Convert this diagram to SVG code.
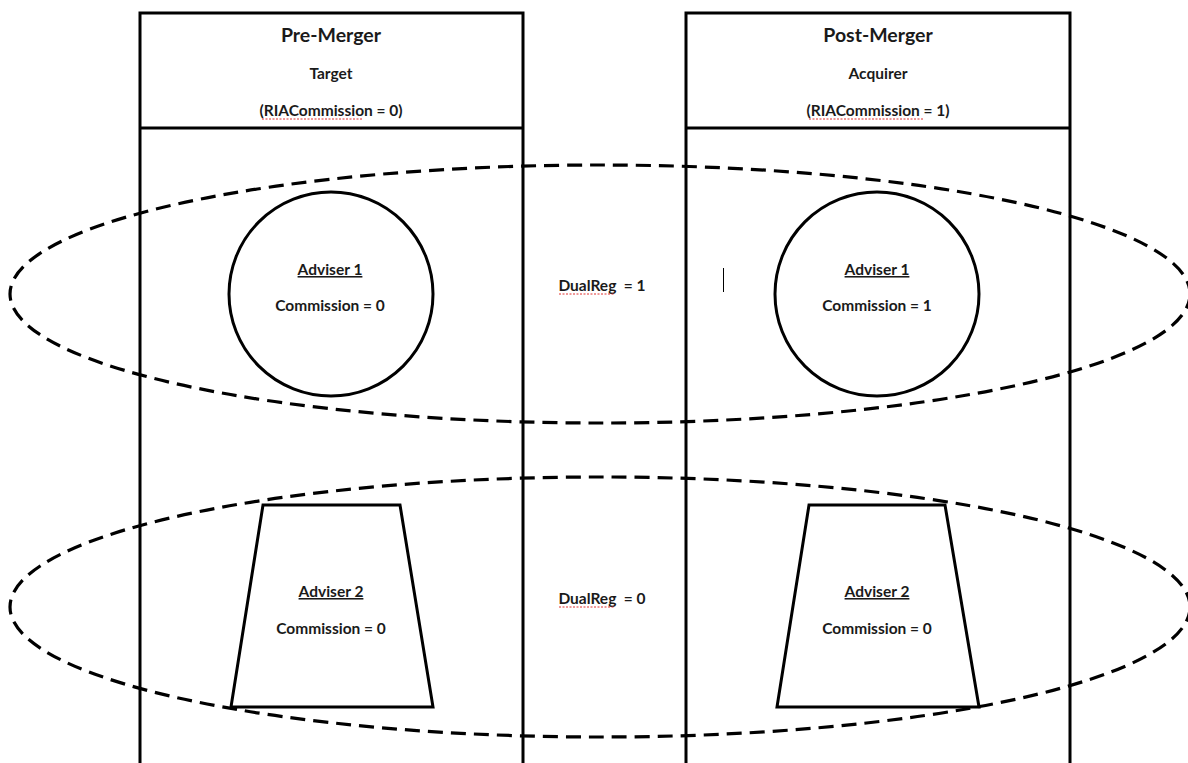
<svg xmlns="http://www.w3.org/2000/svg" width="1188" height="763" viewBox="0 0 1188 763">
<style>
.ln{fill:none;stroke:#000;stroke-width:3}
.dash{fill:none;stroke:#000;stroke-width:3.2;stroke-dasharray:15 8}
.t{font-family:Lato,"Liberation Sans",sans-serif;font-weight:bold;font-size:15.5px;fill:#1a1a1a;text-anchor:middle}
.h{font-size:19.5px}
.u{text-decoration:underline}
.sq{fill:none;stroke:#e03030;stroke-width:1;stroke-dasharray:2 1.5}
</style>
<rect width="1188" height="763" fill="#fff"/>
<g id="col-pre">
<path class="ln" d="M140,775 V13 H523 V775 M140,128 H523"/>
<text class="t h" x="331" y="42">Pre-Merger</text>
<text class="t" x="331" y="79">Target</text>
<text class="t" x="331" y="116">(RIACommission = 0)</text>
<path class="sq" d="M262,119 H362"/>
</g>
<g id="col-post">
<path class="ln" d="M686,775 V13 H1070 V775 M686,128 H1070"/>
<text class="t h" x="878" y="42">Post-Merger</text>
<text class="t" x="878" y="79">Acquirer</text>
<text class="t" x="878" y="116">(RIACommission = 1)</text>
<path class="sq" d="M809,119 H923"/>
</g>
<g id="connectors">
<ellipse class="dash" cx="600" cy="294" rx="590" ry="129"/>
<ellipse class="dash" cx="600" cy="607" rx="590" ry="130"/>
</g>
<g id="adviser1-pre">
<circle class="ln" cx="331" cy="294" r="102"/>
<text class="t u" x="330" y="275">Adviser 1</text>
<text class="t" x="330" y="311">Commission = 0</text>
</g>
<g id="adviser1-post">
<circle class="ln" cx="877" cy="294" r="102"/>
<text class="t u" x="877" y="275">Adviser 1</text>
<text class="t" x="877" y="311">Commission = 1</text>
</g>
<g id="adviser2-pre">
<path class="ln" d="M263,505 H400 L433,707 H231 Z"/>
<text class="t u" x="331" y="597">Adviser 2</text>
<text class="t" x="331" y="634">Commission = 0</text>
</g>
<g id="adviser2-post">
<path class="ln" d="M809,505 H945 L979,707 H777 Z"/>
<text class="t u" x="877" y="597">Adviser 2</text>
<text class="t" x="877" y="634">Commission = 0</text>
</g>
<g id="dualreg1">
<text class="t" x="602" y="291" xml:space="preserve">DualReg  = 1</text>
<path class="sq" d="M559,294 H615"/>
</g>
<g id="dualreg0">
<text class="t" x="602" y="604" xml:space="preserve">DualReg  = 0</text>
<path class="sq" d="M559,607 H615"/>
</g>
<line x1="723.5" y1="268" x2="723.5" y2="292" stroke="#000" stroke-width="1"/>
</svg>
